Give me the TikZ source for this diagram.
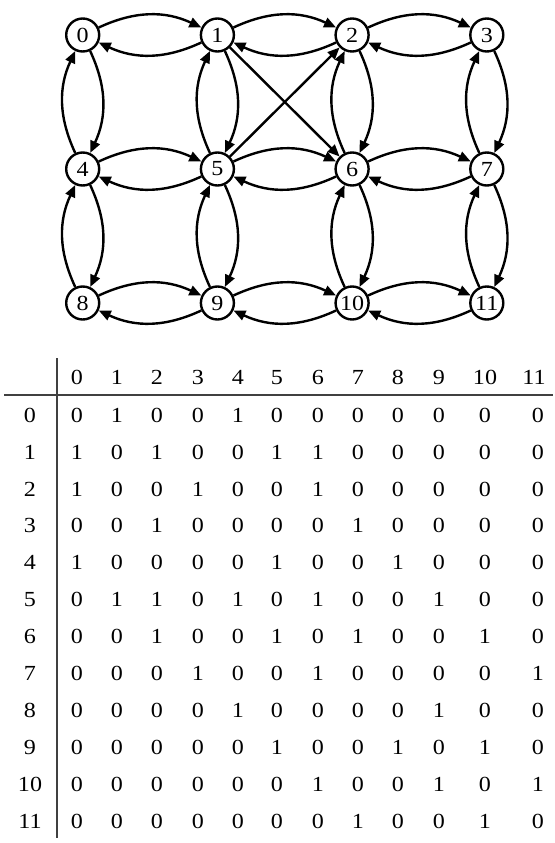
\documentclass[tikz,border=0pt]{standalone}
\usepackage{fontspec}
\setmainfont{Liberation Serif}[FakeStretch=1.12]
\usetikzlibrary{arrows.meta, positioning}
\tikzset{
  % Graph styles
  vertex/.style={circle, draw=black, line width=2.4pt, minimum size=33pt, inner sep=0pt, font=\fontsize{21.5}{24}\selectfont},
  link/.style={-{Triangle[length=12pt, width=10pt]}, line width=2.4pt},
  pairlink/.style={link, bend left=25},
  % Table styles
  cell/.style={inner sep=0pt, anchor=base, font=\fontsize{21.5}{24}\selectfont},
  rule/.style={line width=1.1pt, black!75}
}
\begin{document}
\begin{tikzpicture}[x=1pt, y=-1pt]
  \useasboundingbox (0,0) rectangle (554,843);

  % Vertices on a 4x3 grid
  \foreach \n in {0,...,11} {
    \pgfmathsetmacro{\vx}{82.7 + 134.7*mod(\n,4)}
    \pgfmathsetmacro{\vy}{35 + 134*int(\n/4)}
    \node[vertex] (v\n) at (\vx,\vy) {\n};
  }

  % Edges in both directions between neighbours
  \foreach \a/\b in {0/1, 1/2, 2/3, 4/5, 5/6, 6/7, 8/9, 9/10, 10/11,
                     0/4, 1/5, 2/6, 3/7, 4/8, 5/9, 6/10, 7/11} {
    \draw[pairlink] (v\a) to (v\b);
    \draw[pairlink] (v\b) to (v\a);
  }
  \draw[link] (v1) -- (v6);
  \draw[link] (v5) -- (v2);

  % Adjacency table
  \coordinate (hl) at (4,395);
  \coordinate (hr) at (553,395);
  \coordinate (vt) at (57,358);
  \coordinate (vb) at (57,838);
  \draw[rule] (hl) -- (hr);
  \draw[rule] (vt) -- (vb);

  \foreach \c/\cx in {0/77, 1/117, 2/157, 3/198, 4/238, 5/277, 6/318, 7/358, 8/398, 9/439, 10/485, 11/534}
    \node[cell] (h\c) at (\cx,384) {\c};

  \foreach \r/\row in {0/{0,1,0,0,1,0,0,0,0,0,0,0},
                       1/{1,0,1,0,0,1,1,0,0,0,0,0},
                       2/{1,0,0,1,0,0,1,0,0,0,0,0},
                       3/{0,0,1,0,0,0,0,1,0,0,0,0},
                       4/{1,0,0,0,0,1,0,0,1,0,0,0},
                       5/{0,1,1,0,1,0,1,0,0,1,0,0},
                       6/{0,0,1,0,0,1,0,1,0,0,1,0},
                       7/{0,0,0,1,0,0,1,0,0,0,0,1},
                       8/{0,0,0,0,1,0,0,0,0,1,0,0},
                       9/{0,0,0,0,0,1,0,0,1,0,1,0},
                       10/{0,0,0,0,0,0,1,0,0,1,0,1},
                       11/{0,0,0,0,0,0,0,1,0,0,1,0}} {
    \pgfmathsetmacro{\ry}{422.2 + 36.9*\r}
    \node[cell] (r\r) at (30,\ry) {\r};
    \foreach \val [count=\k from 0] in \row {
      \pgfmathsetmacro{\cx}{{77,117,157,198,238,277,318,358,398,439,485,538}[\k]}
      \node[cell] (m\r-\k) at (\cx,\ry) {\val};
    }
  }
\end{tikzpicture}
\end{document}
